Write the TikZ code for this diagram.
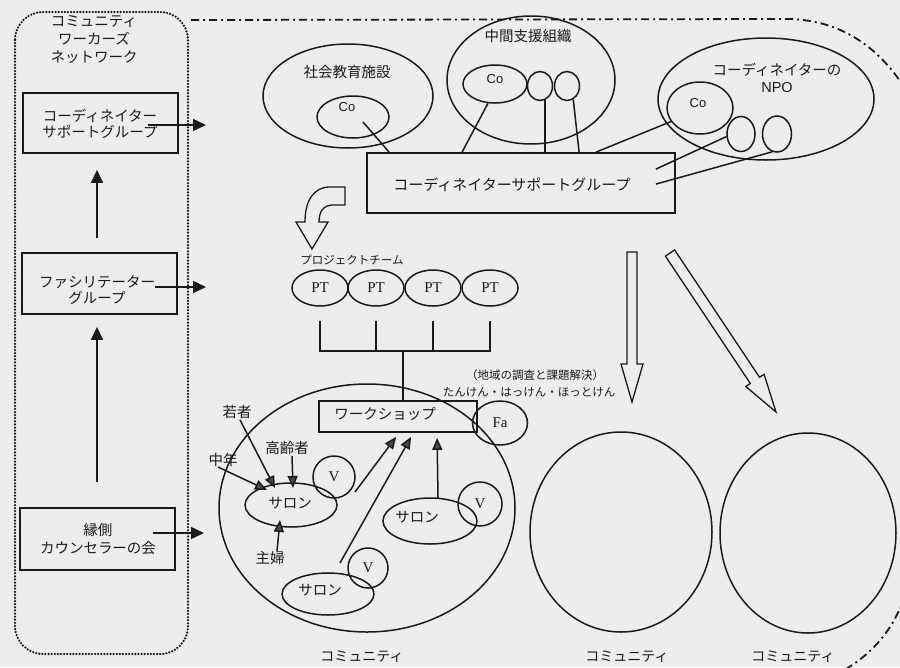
\documentclass[tikz,border=0pt]{standalone}
\usepackage{fontspec}
\setmainfont{Noto Sans CJK JP}
\newfontfamily\latsans{Liberation Sans}
\newfontfamily\latserif{Liberation Serif}
\usetikzlibrary{shapes.geometric,arrows.meta,calc}
\definecolor{ink}{HTML}{1A1A1A}
\definecolor{paper}{HTML}{EDEDED}
\definecolor{tipgray}{HTML}{4A4A4A}
\tikzset{
 ln/.style={draw=ink, line width=1.5pt},
 boxn/.style={draw=ink, line width=1.8pt, rectangle, inner sep=0pt},
 elln/.style={draw=ink, line width=1.5pt, ellipse, inner sep=0pt},
 jp/.style={text=ink, align=center, inner sep=0pt, font=\fontsize{14.5}{15.5}\selectfont},
 jps/.style={text=ink, align=center, inner sep=0pt, font=\fontsize{11.5}{13}\selectfont},
 lat/.style={text=ink, inner sep=0pt, font=\latsans\fontsize{13}{15}\selectfont},
 ser/.style={text=ink, font=\latserif\fontsize{15}{17}\selectfont},
 arrL/.style={ln, -{Triangle[length=13pt,width=12pt]}},
 arrC/.style={ln, -{Triangle[length=12pt,width=10pt,fill=tipgray]}},
 hollow/.style={draw=ink, line width=1.3pt, line join=miter},
 dotln/.style={draw=ink, line width=2.5pt, line cap=round, dash pattern=on 0pt off 3.1pt},
 dashdot/.style={draw=ink, line width=1.8pt, dash pattern=on 8pt off 4pt on 2pt off 4pt},
}
\begin{document}
\begin{tikzpicture}[x=1pt,y=-1pt]
\fill[paper] (0,0) rectangle (900,667);
\useasboundingbox (0,0) rectangle (900,667);

% ---------- outer frames ----------
\draw[dotln, rounded corners=28pt] (15,12) rectangle (188,654);
\draw[dashdot] (191,20) -- (790,19) .. controls (845,21) and (885,50) .. (915,105);
\draw[dashdot] (915,560) .. controls (905,610) and (885,650) .. (835,675);

% ---------- left column ----------
\node[jp, font=\fontsize{14.5}{18}\selectfont] (cwn) at (94,40) {コミュニティ\\ワーカーズ\\ネットワーク};

\node[boxn, minimum width=155pt, minimum height=60pt] (b1) at (100.5,123) {};
\node[jp] (b1t) at (100,124) {コーディネイター\\サポートグループ};
\node[boxn, minimum width=155pt, minimum height=61pt] (b2) at (99.5,283.5) {};
\node[jp, font=\fontsize{14.5}{16.5}\selectfont] (b2t) at (97,290) {ファシリテーター\\グループ};
\node[boxn, minimum width=155pt, minimum height=62pt] (b3) at (97.5,539) {};
\node[jp, font=\fontsize{14.5}{18}\selectfont] (b3t) at (98,539) {縁側\\カウンセラーの会};

\coordinate (a1s) at (148,125); \coordinate (a1e) at (206,125);
\coordinate (a2s) at (155,287); \coordinate (a2e) at (206,287);
\coordinate (a3s) at (153,533); \coordinate (a3e) at (204,533);
\draw[arrL] (a1s) -- (a1e);
\draw[arrL] (a2s) -- (a2e);
\draw[arrL] (a3s) -- (a3e);
\draw[arrL] ($(b2.north)+(-2.5,-14)$) -- ($(b1.south)+(-3.5,16)$);
\draw[arrL] ($(b3.north)+(-0.5,-25)$) -- ($(b2.south)+(-2.5,12)$);

% ---------- top organisations ----------
\node[elln, minimum width=170pt, minimum height=104pt] (shakai) at (348,96) {};
\node[jp] (shakaiT) at (347,72) {社会教育施設};
\node[elln, minimum width=72pt, minimum height=42pt] (co1) at (353,117) {};
\node[lat] (co1t) at (347,107) {Co};

\node[elln, minimum width=168pt, minimum height=128pt] (chukan) at (531,80) {};
\node[jp] (chukanT) at (528,36) {中間支援組織};
\node[elln, minimum width=64pt, minimum height=38pt] (co2) at (495,84) {};
\node[lat] (co2t) at (495,79) {Co};
\node[elln, minimum width=25pt, minimum height=29pt] (s1) at (540,86) {};
\node[elln, minimum width=25pt, minimum height=29pt] (s2) at (567,86) {};

\node[elln, minimum width=216pt, minimum height=122pt] (npo) at (766,99) {};
\node[jp, font=\fontsize{14.5}{17}\selectfont] (npoT) at (777,78) {コーディネイターの\\{\latsans NPO}};
\node[elln, minimum width=66pt, minimum height=52pt] (co3) at (700,108) {};
\node[lat] (co3t) at (698,103) {Co};
\node[elln, minimum width=28pt, minimum height=35pt] (s3) at (741,134) {};
\node[elln, minimum width=29pt, minimum height=36pt] (s4) at (777,134) {};

\node[boxn, minimum width=308pt, minimum height=60pt] (csg) at (521,183) {};
\node[jp, font=\fontsize{15}{17}\selectfont] (csgT) at (512,185) {コーディネイターサポートグループ};

\draw[ln] ($(co1.center)+(10,5)$) -- ($(csg.north west)+(23,0)$);
\draw[ln] (co2.-110) -- ($(csg.north west)+(96,0)$);
\draw[ln] (s1.-70) -- (s1.-70 |- csg.north);
\draw[ln] (s2.-65) -- ($(csg.north west)+(213,0)$);
\draw[ln] (co3.205) -- ($(csg.north west)+(230,0)$);
\draw[ln] (s3.190) -- ($(csg.north east)+(-20,17)$);
\draw[ln] (s4.-105) -- ($(csg.north east)+(-20,32)$);

% curved hollow arrow
\draw[hollow] (345,187) -- (345,205) -- (333,205) .. controls (323,205) and (319,212) .. (319,222)
  -- (328,222) -- (312,249) -- (296,222) -- (305,222) .. controls (305,200) and (314,187) .. (330,187) -- cycle;

% ---------- project teams ----------
\node[jps] (ptlabel) at (352,260) {プロジェクトチーム};
\node[elln, ser, minimum width=56pt, minimum height=36pt] (pt1) at (320,288) {PT};
\node[elln, ser, minimum width=56pt, minimum height=36pt] (pt2) at (376,288) {PT};
\node[elln, ser, minimum width=56pt, minimum height=36pt] (pt3) at (433,288) {PT};
\node[elln, ser, minimum width=56pt, minimum height=36pt] (pt4) at (490,288) {PT};

\node[boxn, minimum width=158pt, minimum height=31pt] (ws) at (398,416.5) {};
\node[jp] (wsT) at (385,414) {ワークショップ};
\node[elln, ser, minimum width=55pt, minimum height=44pt] (fa) at (500,423) {Fa};
\node[jps] (faL1) at (535,375) {（地域の調査と課題解決）};
\node[jps] (faL2) at (529,392) {たんけん・はっけん・ほっとけん};

\coordinate (bar) at (403,350);
\draw[ln] ($(pt1.south)+(0,14)$) |- ($(pt4.south)+(0,44)$) -- ($(pt4.south)+(0,14)$);
\draw[ln] ($(pt2.south)+(0,14)$) -- ++(0,30);
\draw[ln] ($(pt3.south)+(0,14)$) -- ++(0,30);
\draw[ln] (bar) -- (bar |- ws.north);

% ---------- community (left) ----------
\node[elln, minimum width=296pt, minimum height=248pt] (com1) at (367,508) {};
\node[jp, font=\fontsize{14}{15}\selectfont] (com1T) at (362,657) {コミュニティ};

\node[elln, minimum width=92pt, minimum height=44pt] (sal1) at (291,505) {};
\node[jp] (sal1t) at (290,503) {サロン};
\node[elln, ser, minimum width=42pt, minimum height=42pt] (v1) at (334,477) {V};
\node[elln, minimum width=94pt, minimum height=46pt] (sal2) at (430,521) {};
\node[jp] (sal2t) at (417,517) {サロン};
\node[elln, ser, minimum width=44pt, minimum height=44pt] (v2) at (480,504) {V};
\node[elln, minimum width=92pt, minimum height=42pt] (sal3) at (328,594) {};
\node[jp] (sal3t) at (320,590) {サロン};
\node[elln, ser, minimum width=40pt, minimum height=40pt] (v3) at (368,568) {V};

\node[jp] (waka) at (237,412) {若者};
\node[jp] (kore) at (287,448) {高齢者};
\node[jp] (chu) at (223,460) {中年};
\node[jp] (shufu) at (270,558) {主婦};

\draw[arrC] ($(waka.south)+(3,1)$) -- ($(sal1.center)+(-16,-17)$);
\draw[arrC] ($(kore.south)+(5,1)$) -- ($(sal1.center)+(2,-17)$);
\draw[arrC] ($(chu.center)+(-5,7)$) -- ($(sal1.center)+(-24,-15)$);
\draw[arrC] ($(shufu.north)+(7,0)$) -- ($(sal1.center)+(-11,15)$);
\draw[arrC] ($(sal1.center)+(64,-13)$) -- ($(ws.south west)+(78,4)$);
\draw[arrC] ($(sal3.center)+(12,-31)$) -- ($(ws.south west)+(93,4)$);
\draw[arrC] ($(sal2.center)+(8,-23)$) -- ($(ws.south west)+(119,5)$);

% ---------- hollow straight arrows ----------
\draw[hollow] (627,252) -- (637,252) -- (637,364) -- (643,364) -- (632,402) -- (621,364) -- (627,364) -- cycle;
\draw[hollow] (674.6,249.9) -- (759.5,377.3) -- (764.1,374.3) -- (776,412) -- (745.8,386.5) -- (750.3,383.5) -- (665.4,256.1) -- cycle;

% ---------- right communities ----------
\node[elln, minimum width=182pt, minimum height=200pt] (com2) at (621,532) {};
\node[jp, font=\fontsize{14}{15}\selectfont] (com2T) at (627,657) {コミュニティ};
\node[elln, minimum width=176pt, minimum height=200pt] (com3) at (808,533) {};
\node[jp, font=\fontsize{14}{15}\selectfont] (com3T) at (793,657) {コミュニティ};
\end{tikzpicture}
\end{document}
